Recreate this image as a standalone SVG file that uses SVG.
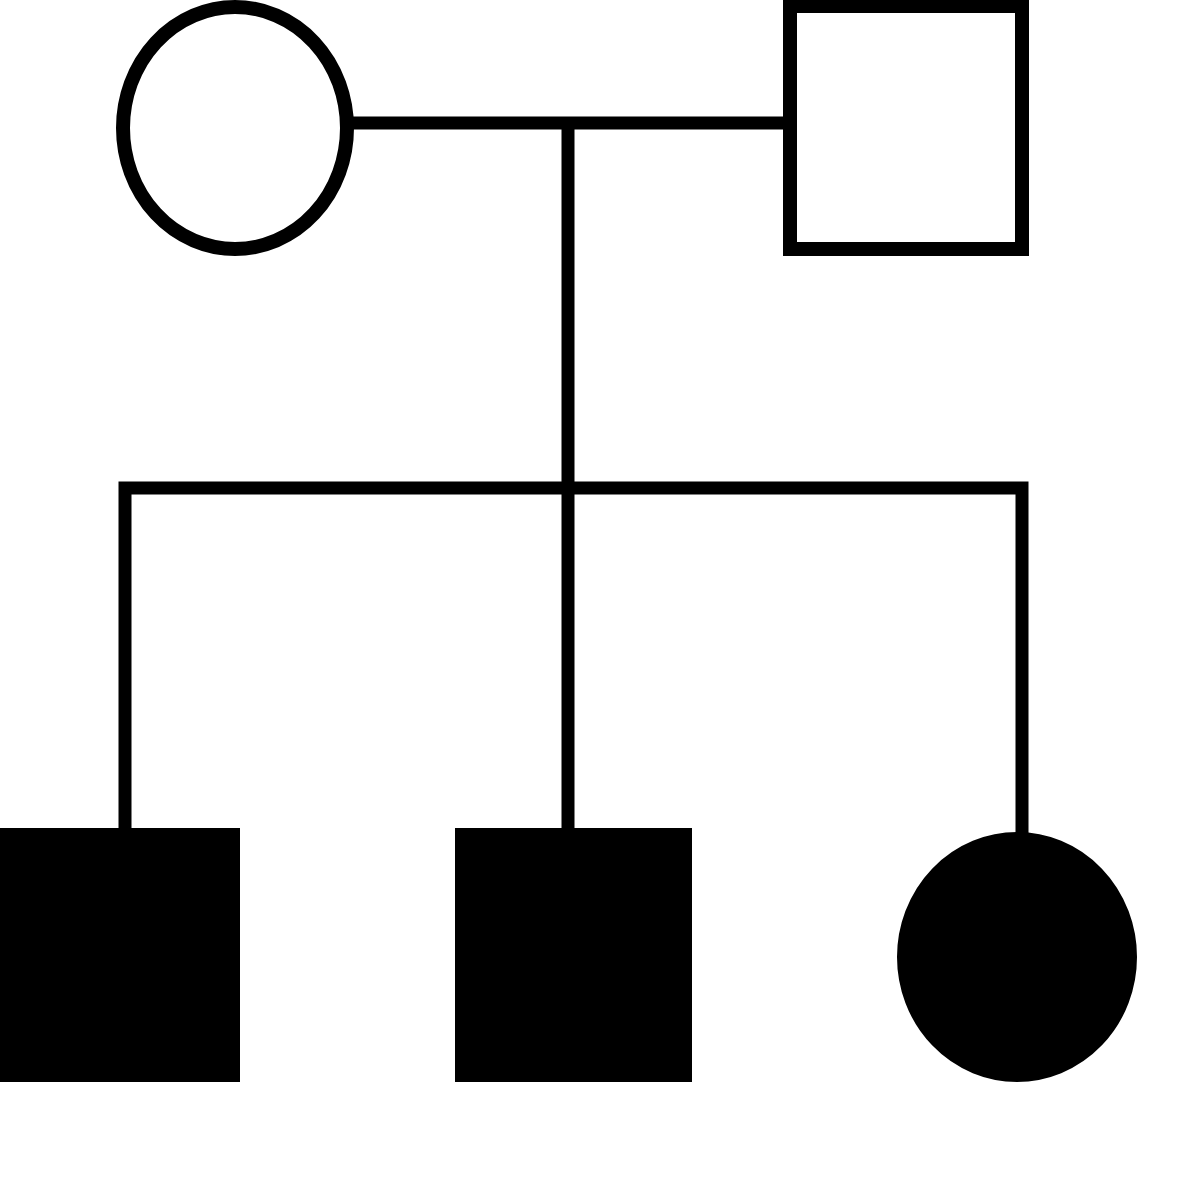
<svg xmlns="http://www.w3.org/2000/svg" width="1200" height="1200" viewBox="0 0 1200 1200">
<style>
.line{stroke:#000;stroke-width:13;fill:none;stroke-linejoin:miter}
.open{fill:#fff;stroke:#000;stroke-width:14}
.filled{fill:#000;stroke:#000;stroke-width:4}
</style>
<rect width="1200" height="1200" fill="#fff"/>
<g id="connectors">
<line class="line" x1="348" y1="123" x2="790" y2="123"/>
<line class="line" x1="568" y1="123" x2="568" y2="488"/>
<path class="line" d="M125,832 V488 H1022 V835"/>
<line class="line" x1="568" y1="488" x2="568" y2="832"/>
</g>
<g id="mother"><ellipse class="open" cx="235" cy="128" rx="112" ry="121"/></g>
<g id="father"><rect class="open" x="790" y="6" width="232" height="243"/></g>
<g id="son1"><rect class="filled" x="-10" y="830" width="248" height="250"/></g>
<g id="son2"><rect class="filled" x="457" y="830" width="233" height="250"/></g>
<g id="daughter"><ellipse class="filled" cx="1017" cy="957" rx="118" ry="123"/></g>
</svg>
